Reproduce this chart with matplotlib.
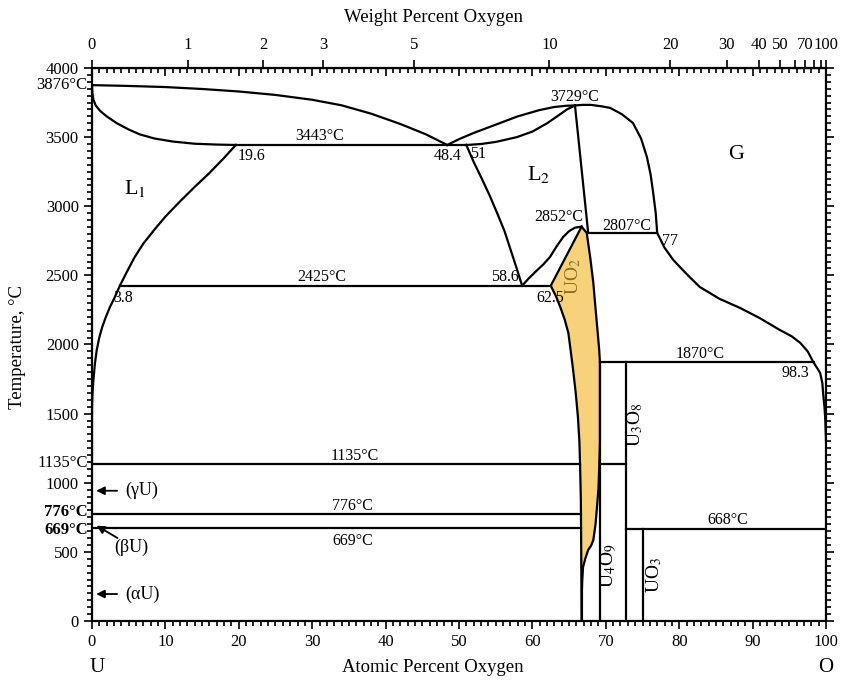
import numpy as np
import matplotlib
matplotlib.use("Agg")
import matplotlib.pyplot as plt
from matplotlib.ticker import MultipleLocator

plt.rcParams['font.family'] = ['Liberation Serif', 'DejaVu Serif']
plt.rcParams['mathtext.fontset'] = 'stix'

# phase boundaries (atomic % O, temperature degC)
liq_top_x = [0, 5, 10, 15, 20, 25, 30, 34, 38, 42, 45.5, 48.4]
liq_top_t = [3876, 3870, 3862, 3848, 3830, 3805, 3770, 3730, 3670, 3595, 3520, 3443]
liq1_x = [0, 0.05, 0.2, 0.5, 1.1, 2, 3.4, 5, 6.5, 8.5, 11, 14, 17, 19.6]
liq1_t = [3876, 3820, 3770, 3730, 3690, 3650, 3600, 3555, 3520, 3490, 3468, 3452, 3446, 3443]
sol1_x = [19.6, 18, 16, 14, 12, 10, 8.5, 7, 5.8, 4.8, 3.8, 3, 2.45, 1.9, 1.4, 1,
          0.65, 0.4, 0.2, 0.08, 0.02, 0, 0]
sol1_t = [3443, 3350, 3240, 3140, 3035, 2925, 2830, 2730, 2630, 2530, 2425, 2330, 2271,
          2200, 2127, 2050, 1960, 1860, 1743, 1650, 1577, 1450, 1135]
liq2_up_x = [48.4, 50, 52, 54, 55.6, 58, 61, 63, 64.7, 65.8]
liq2_up_t = [3443, 3485, 3530, 3570, 3602, 3650, 3696, 3718, 3727, 3729]
liq2_lo_x = [51, 53, 55, 57.9, 60, 62, 63.5, 64.7, 65.8]
liq2_lo_t = [3443, 3450, 3465, 3500, 3540, 3600, 3655, 3700, 3729]
l2_left_x = [51, 52, 53.1, 54.2, 55.2, 56.2, 57, 57.8, 58.6]
l2_left_t = [3443, 3320, 3200, 3075, 2950, 2820, 2690, 2560, 2425]
l2_liq_x = [58.6, 59.5, 60.5, 61.5, 62.4, 63.3, 64.2, 65, 65.8, 66.7]
l2_liq_t = [2425, 2478, 2530, 2580, 2633, 2710, 2778, 2820, 2845, 2852]
vert_x = [65.8, 67.6]
vert_t = [3729, 2807]
gas_x = [65.8, 66.8, 68, 69.5, 70.6, 72.2, 73.7, 74.8, 75.6, 76.1, 76.4, 76.8, 77,
         78, 79.2, 81, 82.8, 85.5, 88.3, 91, 93.7, 95.3, 96.5, 97.5, 98.3, 98.9,
         99.2, 99.5, 99.6, 99.8, 99.9, 100]
gas_t = [3729, 3733, 3733, 3722, 3711, 3665, 3602, 3490, 3356, 3230, 3118, 2950, 2807,
         2700, 2611, 2510, 2416, 2330, 2264, 2190, 2105, 2060, 2011, 1950, 1870, 1820,
         1794, 1720, 1649, 1540, 1454, 1300]

# UO2 single-phase field
uo2_left_x = [66.7, 62.5, 63.2, 63.8, 64.4, 64.9, 65.2, 65.5, 65.9, 66.2, 66.4, 66.5,
              66.6, 66.65, 66.7]
uo2_left_t = [2852, 2425, 2350, 2271, 2180, 2083, 1960, 1837, 1650, 1476, 1300, 1114,
              875, 500, 0]
uo2_right_x = [66.7, 67.4, 67.9, 68.3, 68.6, 68.9, 69.1, 69.2, 69.2, 69.15, 69.1, 69.0,
               68.8, 68.6, 68.3, 68.0, 67.6, 67.2, 66.9, 66.8, 66.75, 66.75]
uo2_right_t = [2852, 2807, 2620, 2445, 2260, 2083, 1960, 1870, 1300, 1200, 1114, 960,
               825, 700, 586, 545, 514, 450, 391, 300, 224, 0]

# invariant lines (T, x start, x end)
iso_t = [3443, 2425, 2807, 1870, 1135, 776, 669, 668, 1135]
iso_x0 = [19.6, 3.8, 67.6, 69.2, 0, 0, 0, 72.7, 69.2]
iso_x1 = [51, 62.5, 77, 98.3, 66.5, 66.6, 66.6, 100, 72.7]

# compound lines (x, T top)
comp_x = [69.2, 72.7, 75]
comp_t = [1870, 1870, 668]

wt_ticks = [0, 1, 2, 3, 5, 10, 20, 30, 40, 50, 70, 100]
wt_minor = [60, 80, 90]


def at2wt(a):
    a = np.asarray(a, dtype=float)
    return 1600 * a / (16 * a + 238.03 * (100 - a))


def wt2at(w):
    w = np.asarray(w, dtype=float)
    return 100 * (w / 16) / (w / 16 + (100 - w) / 238.03)


fig = plt.figure(figsize=(8.46, 6.88), dpi=100)
ax = fig.add_axes([0.1087, 0.0974, 0.8677, 0.8038])
ax.set_xlim(0, 100)
ax.set_ylim(0, 4000)

lw = 1.6
k = 'black'
ax.fill(uo2_left_x + uo2_right_x[::-1], uo2_left_t + uo2_right_t[::-1],
        color='#f8d27a', lw=0, zorder=1)
for xs, ts in [(liq_top_x, liq_top_t), (liq1_x, liq1_t), (sol1_x, sol1_t),
               (liq2_up_x, liq2_up_t), (liq2_lo_x, liq2_lo_t), (l2_left_x, l2_left_t),
               (l2_liq_x, l2_liq_t), (vert_x, vert_t), (gas_x, gas_t),
               (uo2_left_x, uo2_left_t), (uo2_right_x, uo2_right_t)]:
    ax.plot(xs, ts, color=k, lw=lw, zorder=3, solid_joinstyle='round')
for t, x0, x1 in zip(iso_t, iso_x0, iso_x1):
    ax.plot([x0, x1], [t, t], color=k, lw=lw, zorder=3)
for x, t in zip(comp_x, comp_t):
    ax.plot([x, x], [0, t], color=k, lw=lw, zorder=3)

# axes styling
for s in ax.spines.values():
    s.set_linewidth(1.6)
ax.set_xticks(range(0, 101, 10))
ax.xaxis.set_minor_locator(MultipleLocator(1))
ax.yaxis.set_major_locator(MultipleLocator(500))
ax.yaxis.set_minor_locator(MultipleLocator(50))
ax.tick_params(which='both', right=True, top=False, labelsize=12, width=1.2,
               direction='out')
ax.tick_params(which='major', length=6)
ax.tick_params(which='minor', length=3.5)

# top at% ticks pointing inward
topax = ax.secondary_xaxis('top')
topax.xaxis.set_major_locator(MultipleLocator(10))
topax.xaxis.set_minor_locator(MultipleLocator(1))
topax.tick_params(which='both', direction='in', labeltop=False, width=1.2)
topax.tick_params(which='major', length=6)
topax.tick_params(which='minor', length=3.5)

# weight percent scale
wax = ax.secondary_xaxis('top', functions=(at2wt, wt2at))
wax.set_xticks(wt_ticks)
wax.set_xticks(wt_minor, minor=True)
wax.set_xticklabels([str(v) for v in wt_ticks])
wax.tick_params(which='both', direction='out', labelsize=12, width=1.2, length=6,
                pad=5)

fig.text(433 / 846, 1 - 17 / 688, 'Weight Percent Oxygen', fontsize=13.5,
         ha='center', va='center')
fig.text(433 / 846, 1 - 668 / 688, 'Atomic Percent Oxygen', fontsize=13.5,
         ha='center', va='center')
fig.text(18 / 846, 1 - 347 / 688, 'Temperature, °C', fontsize=13.5, rotation=90,
         ha='center', va='center')
fig.text(97 / 846, 1 - 668 / 688, 'U', fontsize=15, ha='center', va='center')
fig.text(826 / 846, 1 - 668 / 688, 'O', fontsize=15, ha='center', va='center')

# extra temperature labels at the left axis
ytr = ax.get_yaxis_transform()
ax.text(-0.006, 3876, '3876°C', transform=ytr, ha='right', va='center', fontsize=12)
ax.text(-0.006, 1140, '1135°C', transform=ytr, ha='right', va='center', fontsize=12)
ax.text(-0.006, 790, '776°C', transform=ytr, ha='right', va='center', fontsize=12,
        fontweight='bold')
ax.text(-0.006, 655, '669°C', transform=ytr, ha='right', va='center', fontsize=12,
        fontweight='bold')

# allotrope arrows
ap = dict(arrowstyle='-|>', color='k', lw=1.3, mutation_scale=12)
ax.annotate('', xy=(0.2, 942), xytext=(3.8, 942), arrowprops=ap)
ax.text(4.6, 942, '(γU)', ha='left', va='center', fontsize=13)
ax.annotate('', xy=(0.3, 700), xytext=(3.8, 590), arrowprops=ap)
ax.text(3.0, 530, '(βU)', ha='left', va='center', fontsize=13)
ax.annotate('', xy=(0.2, 195), xytext=(3.8, 195), arrowprops=ap)
ax.text(4.6, 195, '(αU)', ha='left', va='center', fontsize=13)

# field and point labels
fs = 11.5
ax.text(31, 3505, '3443°C', ha='center', va='center', fontsize=fs)
ax.text(19.9, 3360, '19.6', ha='left', va='center', fontsize=fs)
ax.text(48.4, 3360, '48.4', ha='center', va='center', fontsize=fs)
ax.text(52.6, 3375, '51', ha='center', va='center', fontsize=fs)
ax.text(65.8, 3790, '3729°C', ha='center', va='center', fontsize=fs)
ax.text(5.9, 3130, 'L$_1$', ha='center', va='center', fontsize=16)
ax.text(60.8, 3230, 'L$_2$', ha='center', va='center', fontsize=16)
ax.text(87.8, 3375, 'G', ha='center', va='center', fontsize=16)
ax.text(63.6, 2925, '2852°C', ha='center', va='center', fontsize=fs)
ax.text(72.8, 2855, '2807°C', ha='center', va='center', fontsize=fs)
ax.text(77.6, 2745, '77', ha='left', va='center', fontsize=fs)
ax.text(31.3, 2485, '2425°C', ha='center', va='center', fontsize=fs)
ax.text(56.3, 2485, '58.6', ha='center', va='center', fontsize=fs)
ax.text(4.3, 2335, '3.8', ha='center', va='center', fontsize=fs)
ax.text(62.4, 2335, '62.5', ha='center', va='center', fontsize=fs)
ax.text(65.6, 2490, 'UO$_2$', ha='center', va='center', fontsize=14, rotation=90,
        color='#8c6d24')
ax.text(82.8, 1930, '1870°C', ha='center', va='center', fontsize=fs)
ax.text(95.8, 1795, '98.3', ha='center', va='center', fontsize=fs)
ax.text(74.0, 1420, 'U$_3$O$_8$', ha='center', va='center', fontsize=14, rotation=90)
ax.text(35.8, 1195, '1135°C', ha='center', va='center', fontsize=fs)
ax.text(35.5, 835, '776°C', ha='center', va='center', fontsize=fs)
ax.text(35.5, 580, '669°C', ha='center', va='center', fontsize=fs)
ax.text(86.6, 730, '668°C', ha='center', va='center', fontsize=fs)
ax.text(70.4, 400, 'U$_4$O$_9$', ha='center', va='center', fontsize=14, rotation=90)
ax.text(76.6, 330, 'UO$_3$', ha='center', va='center', fontsize=14, rotation=90)

fig.savefig('out.png', dpi=100)
